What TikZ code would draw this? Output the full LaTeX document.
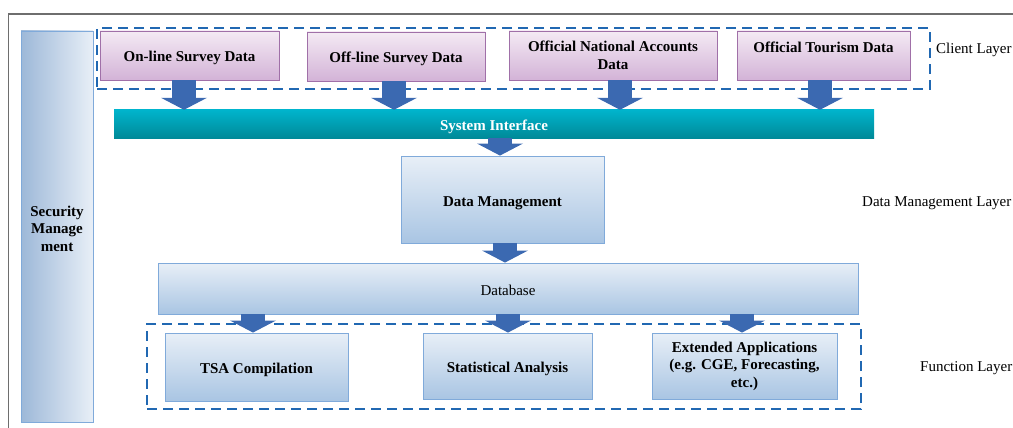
\documentclass[tikz,border=0pt]{standalone}
\usepackage{fontspec}
\setmainfont{Liberation Serif}
\usetikzlibrary{arrows.meta}
\definecolor{pinktop}{HTML}{F4EAF4}
\definecolor{pinkbot}{HTML}{D3B3D7}
\definecolor{pinkline}{HTML}{A070A8}
\definecolor{bluetop}{HTML}{E8EFF7}
\definecolor{bluebot}{HTML}{A9C5E3}
\definecolor{blueline}{HTML}{80AADA}
\definecolor{secleft}{HTML}{9DB8D8}
\definecolor{sitop}{HTML}{00B4CC}
\definecolor{sibot}{HTML}{008A98}
\definecolor{arrblue}{HTML}{3B69B1}
\definecolor{dashblue}{HTML}{2168B2}
\definecolor{framegray}{HTML}{6E6E6E}
\begin{document}
\begin{tikzpicture}[x=1pt,y=-1pt,
  every node/.style={font=\fontsize{15}{17.5}\selectfont, inner sep=0pt, align=center},
  pinkbox/.style={draw=pinkline, line width=0.9pt, top color=pinktop, bottom color=pinkbot, font=\fontsize{15}{17.5}\selectfont\bfseries},
  bluebox/.style={draw=blueline, line width=0.9pt, top color=bluetop, bottom color=bluebot, font=\fontsize{15}{17.5}\selectfont\bfseries},
  lowtext/.style={text height=16.5pt, text depth=3.5pt},
  dashframe/.style={draw=dashblue, line width=2.6pt, dash pattern=on 10pt off 6pt},
  barrow/.style={draw=arrblue, line width=24pt, -{Triangle[width=46pt,length=12pt,line width=0pt]}},
  layerlabel/.style={anchor=west}]
\useasboundingbox (0,0) rectangle (1013,428);
% outer frame
\draw[framegray, line width=1.5pt] (1013,14) -- (8.5,14) -- (8.5,428);
% security bar
\node[draw=blueline, line width=0.9pt, left color=secleft, right color=bluetop, minimum width=72pt, minimum height=391pt, text height=49pt, text depth=0pt, font=\fontsize{15}{17.5}\selectfont\bfseries] (sec) at (57,226.5) {Security\\Manage\\ment};
% client layer
\node[pinkbox, lowtext, minimum width=179pt, minimum height=49pt] (on) at (189.5,55.5) {On-line Survey Data};
\node[pinkbox, lowtext, minimum width=178pt, minimum height=49pt] (off) at (396,56.5) {Off-line Survey Data};
\node[pinkbox, minimum width=208pt, minimum height=49pt] (nat) at (613,55.5) {Official National Accounts\\Data};
\node[pinkbox, minimum width=173pt, minimum height=49pt] (tour) at (823.5,55.5) {Official Tourism Data\\[0pt]~};
\node[dashframe, minimum width=833pt, minimum height=61pt] (cl) at (513.5,58.5) {};
\node[layerlabel] (cll) at (936,50) {Client Layer};
% system interface
\node[top color=sitop, bottom color=sibot, minimum width=760pt, minimum height=28pt, text=white, lowtext, font=\fontsize{15}{17.5}\selectfont\bfseries] (si) at (494,124) {System Interface};
% data management
\node[bluebox, lowtext, minimum width=203pt, minimum height=87pt] (dm) at (502.5,199.5) {Data Management};
\node[layerlabel] (dml) at (862,203) {Data Management Layer};
% database
\node[bluebox, lowtext, minimum width=700pt, minimum height=51pt, font=\fontsize{15}{17.5}\selectfont] (db) at (508,288.5) {Database};
% function layer
\node[bluebox, lowtext, minimum width=183pt, minimum height=68pt] (tsa) at (256.5,367) {TSA Compilation};
\node[bluebox, lowtext, minimum width=169pt, minimum height=66pt] (stat) at (507.5,366) {Statistical Analysis};
\node[bluebox, minimum width=185pt, minimum height=66pt] (ext) at (744.5,366) {Extended Applications\\(e.g. CGE, Forecasting,\\etc.)};
\node[dashframe, minimum width=714pt, minimum height=85pt] (fl) at (504,366.5) {};
\node[layerlabel] (fll) at (920,368) {Function Layer};
% arrow positions
\coordinate (a1) at (184,0);
\coordinate (a2) at (394,0);
\coordinate (a3) at (620,0);
\coordinate (a4) at (820,0);
\coordinate (a5) at (500,0);
\coordinate (a6) at (505,0);
\coordinate (a7) at (253,0);
\coordinate (a8) at (508,0);
\coordinate (a9) at (742,0);
\draw[barrow] (on.south -| a1) -- (si.north -| a1);
\draw[barrow] (off.south -| a2) -- (si.north -| a2);
\draw[barrow] (nat.south -| a3) -- (si.north -| a3);
\draw[barrow] (tour.south -| a4) -- (si.north -| a4);
\draw[barrow] (si.south -| a5) -- (dm.north -| a5);
\draw[barrow] (dm.south -| a6) -- (db.north -| a6);
\draw[barrow] (db.south -| a7) -- (tsa.north -| a7);
\draw[barrow] (db.south -| a8) -- (stat.north -| a8);
\draw[barrow] (db.south -| a9) -- (ext.north -| a9);
\end{tikzpicture}
\end{document}
